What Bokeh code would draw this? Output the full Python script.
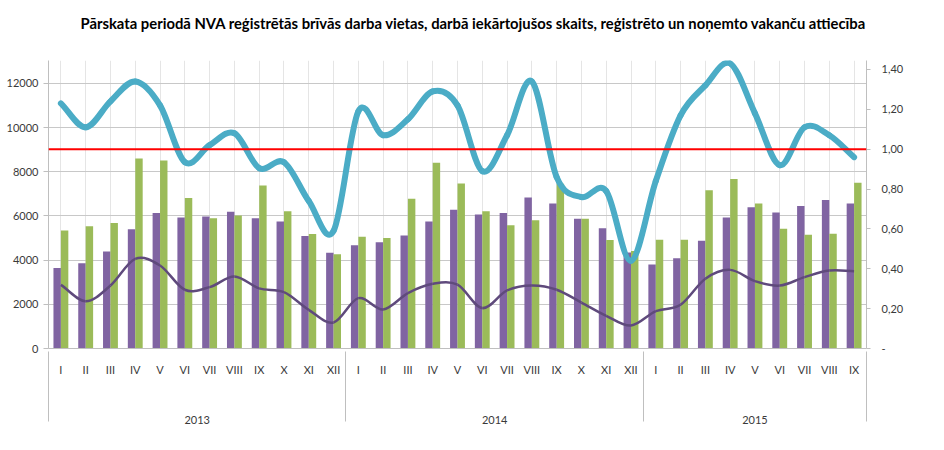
from bokeh.plotting import figure
from bokeh.models import (FactorRange, Range1d, LinearAxis, FixedTicker, CustomJSTickFormatter,
                          ColumnDataSource, Span, Legend, LegendItem, Grid)
from bokeh.transform import dodge
from bokeh.embed import file_html
from bokeh.resources import INLINE

# ---------------- data ----------------
years = ["2013", "2014", "2015"]
months_per_year = [12, 12, 9]
month_names = ["I", "II", "III", "IV", "V", "VI", "VII", "VIII", "IX", "X", "XI", "XII"]

# Brīvās darba vietas pārskata perioda beigās (left axis)
vacancies_end = [3640, 3860, 4390, 5400, 6130, 5930, 5980, 6190, 5900, 5750, 5090, 4330,
                 4680, 4810, 5120, 5750, 6280, 6070, 6130, 6840, 6570, 5870, 5440, 4350,
                 3800, 4090, 4880, 5930, 6400, 6160, 6450, 6720, 6570]
# Iekārtojušies darbā b/d (left axis)
placed = [5340, 5530, 5680, 8600, 8510, 6810, 5900, 6020, 7380, 6210, 5180, 4270,
          5060, 5000, 6780, 8410, 7470, 6210, 5580, 5810, 7460, 5870, 4910, 4420,
          4920, 4920, 7160, 7680, 6570, 5420, 5150, 5190, 7500]
# Pārskata periodā reģistrētās vakances (left axis)
registered = [2880, 2140, 2850, 4060, 3760, 2660, 2780, 3260, 2720, 2550, 1750, 1180,
              2280, 1770, 2510, 2930, 2890, 1830, 2630, 2850, 2660, 2080, 1480, 1040,
              1690, 1980, 3160, 3560, 3050, 2850, 3230, 3530, 3500]
# Pārskata periodā reģistrēto un noņemto vakanču attiecība (right axis)
ratio = [1.23, 1.11, 1.24, 1.34, 1.22, 0.935, 1.02, 1.08, 0.905, 0.935, 0.74, 0.59,
         1.19, 1.07, 1.15, 1.29, 1.22, 0.89, 1.07, 1.34, 0.86, 0.76, 0.79, 0.44,
         0.84, 1.17, 1.32, 1.43, 1.18, 0.92, 1.11, 1.07, 0.96]
reference_ratio = 1.0

left_ticks = [0, 2000, 4000, 6000, 8000, 10000, 12000]
right_ticks = [0, 0.2, 0.4, 0.6, 0.8, 1.0, 1.2, 1.4]

legend_labels = ["Brīvās darba vietas pārskata perioda beigās",
                 "Iekārtojušies darbā b/d",
                 "Pārskata periodā reģistrētās vakances",
                 "Pārskata periodā reģistrēto un noņemto vakanču attiecība"]
title_text = ("Pārskata periodā NVA reģistrētās brīvās darba vietas, darbā iekārtojušos skaits, "
              "reģistrēto un noņemto vakanču attiecība")

# ---------------- styling / layout ----------------
PURPLE = "#8064A2"
GREEN = "#9BBB59"
DARK = "#5F4A7C"
BLUE = "#4BACC6"
GRID = "#C8C8C8"
AXIS = "#BFBFBF"
TXT = "#3A3A3A"
FONT = "Lato"

factors = []
month_labels = []
for yr, n in zip(years, months_per_year):
    for m in month_names[:n]:
        factors.append((yr, m))
        month_labels.append(m)

bounds = [0]
for n in months_per_year:
    bounds.append(bounds[-1] + n)
year_centers = [(a + b) / 2 for a, b in zip(bounds[:-1], bounds[1:])]
month_centers = [i + 0.5 for i in range(len(factors))]

x_range = FactorRange(*factors, group_padding=0, factor_padding=0,
                      subgroup_padding=0, range_padding=0)

p = figure(x_range=x_range, y_range=Range1d(0, 13040),
           frame_width=818, frame_height=288,
           output_backend="svg", toolbar_location=None,
           x_axis_location=None, y_axis_location=None,
           min_border_left=48, min_border_right=78, min_border_top=60, min_border_bottom=60)
p.extra_y_ranges = {"ratio": Range1d(0, 1.445)}
p.outline_line_color = None
p.background_fill_color = "white"

# title: a blank second line lifts the first line towards the top of the page
p.title.text = title_text + "\n "
p.title.align = "left"
p.title.offset = 32
p.title.text_font = FONT
p.title.text_font_size = "14.8px"
p.title.text_font_style = "bold"
p.title.text_color = "black"
p.title.standoff = 22

# axes
left_ticker = FixedTicker(ticks=left_ticks)
yax = LinearAxis(ticker=left_ticker, axis_line_color=AXIS, major_tick_line_color=AXIS,
                 major_tick_out=5, major_tick_in=0, minor_tick_line_color=None,
                 major_label_text_font=FONT, major_label_text_font_size="11px",
                 major_label_text_color=TXT, major_label_standoff=5)
p.add_layout(yax, "left")
p.add_layout(Grid(dimension=1, ticker=left_ticker, grid_line_color=GRID, grid_line_width=1.2))

rax = LinearAxis(y_range_name="ratio", ticker=FixedTicker(ticks=right_ticks),
                 formatter=CustomJSTickFormatter(
                     code="return tick === 0 ? '-' : tick.toFixed(2).replace('.', ',');"),
                 axis_line_color=AXIS, major_tick_line_color=AXIS,
                 major_tick_out=4, major_tick_in=0, minor_tick_line_color=None,
                 major_label_text_font=FONT, major_label_text_font_size="11px",
                 major_label_text_color=TXT, major_label_standoff=11)
p.add_layout(rax, "right")

mon_ax = LinearAxis(ticker=FixedTicker(ticks=month_centers, minor_ticks=[]),
                    formatter=CustomJSTickFormatter(args=dict(labels=month_labels),
                                                    code="return labels[Math.floor(tick)] || '';"),
                    axis_line_color=AXIS, major_tick_out=0, major_tick_in=0,
                    major_tick_line_color=None, minor_tick_line_color=None,
                    major_label_text_font=FONT, major_label_text_font_size="11px",
                    major_label_text_color=TXT, major_label_standoff=14)
p.add_layout(mon_ax, "below")

# year labels + group separators (separators reach up to the x axis line)
yr_ax = LinearAxis(ticker=FixedTicker(ticks=year_centers, minor_ticks=bounds),
                   formatter=CustomJSTickFormatter(args=dict(labels=years, pos=year_centers),
                                                   code="const i = pos.indexOf(tick); return i < 0 ? '' : labels[i];"),
                   axis_line_color=None, major_tick_out=0, major_tick_in=0,
                   major_tick_line_color=None,
                   minor_tick_in=27, minor_tick_out=43, minor_tick_line_color=AXIS,
                   minor_tick_line_width=1,
                   major_label_text_font=FONT, major_label_text_font_size="11px",
                   major_label_text_color=TXT, major_label_standoff=-6)
p.add_layout(yr_ax, "below")

# bars
src = ColumnDataSource(dict(x=factors, vac=vacancies_end, placed=placed))
r_vac = p.vbar(x=dodge("x", -0.15, range=x_range), top="vac", width=0.3,
               source=src, fill_color=PURPLE, line_color=None)
r_pl = p.vbar(x=dodge("x", 0.15, range=x_range), top="placed", width=0.3,
              source=src, fill_color=GREEN, line_color=None)


def smooth_source(vals):
    n = len(vals)
    y0, y1, cy0, cy1 = [], [], [], []
    for i in range(n - 1):
        a, b = vals[i], vals[i + 1]
        prev = vals[i - 1] if i > 0 else 2 * a - b
        nxt = vals[i + 2] if i + 2 < n else 2 * b - a
        y0.append(a)
        y1.append(b)
        cy0.append(a + (b - prev) / 6)
        cy1.append(b - (nxt - a) / 6)
    return ColumnDataSource(dict(x0=factors[:-1], x1=factors[1:], y0=y0, y1=y1, cy0=cy0, cy1=cy1))


def smooth(vals, **kw):
    return p.bezier(x0="x0", y0="y0", x1="x1", y1="y1",
                    cx0=dodge("x0", 1 / 3, range=x_range), cy0="cy0",
                    cx1=dodge("x1", -1 / 3, range=x_range), cy1="cy1",
                    source=smooth_source(vals), **kw)


r_reg = smooth(registered, line_color=DARK, line_width=2.5)
r_rat = smooth(ratio, line_color=BLUE, line_width=6, line_cap="round", y_range_name="ratio")

p.add_layout(Span(location=reference_ratio, dimension="width", y_range_name="ratio",
                  line_color="#FF0000", line_width=2))

# legend kept narrower than the plot frame so it stays on a single row
legend = Legend(items=[LegendItem(label=legend_labels[0], renderers=[r_vac]),
                       LegendItem(label=legend_labels[1], renderers=[r_pl]),
                       LegendItem(label=legend_labels[2], renderers=[r_reg]),
                       LegendItem(label=legend_labels[3], renderers=[r_rat])],
                orientation="horizontal", location="top_left",
                label_text_font=FONT, label_text_font_size="10px", label_text_color=TXT,
                glyph_width=18, glyph_height=8, label_height=14, label_standoff=3,
                spacing=12, padding=0, margin=0, border_line_color=None,
                background_fill_alpha=0)
p.add_layout(legend, "below")

open("out.html", "w").write(file_html(p, INLINE))
